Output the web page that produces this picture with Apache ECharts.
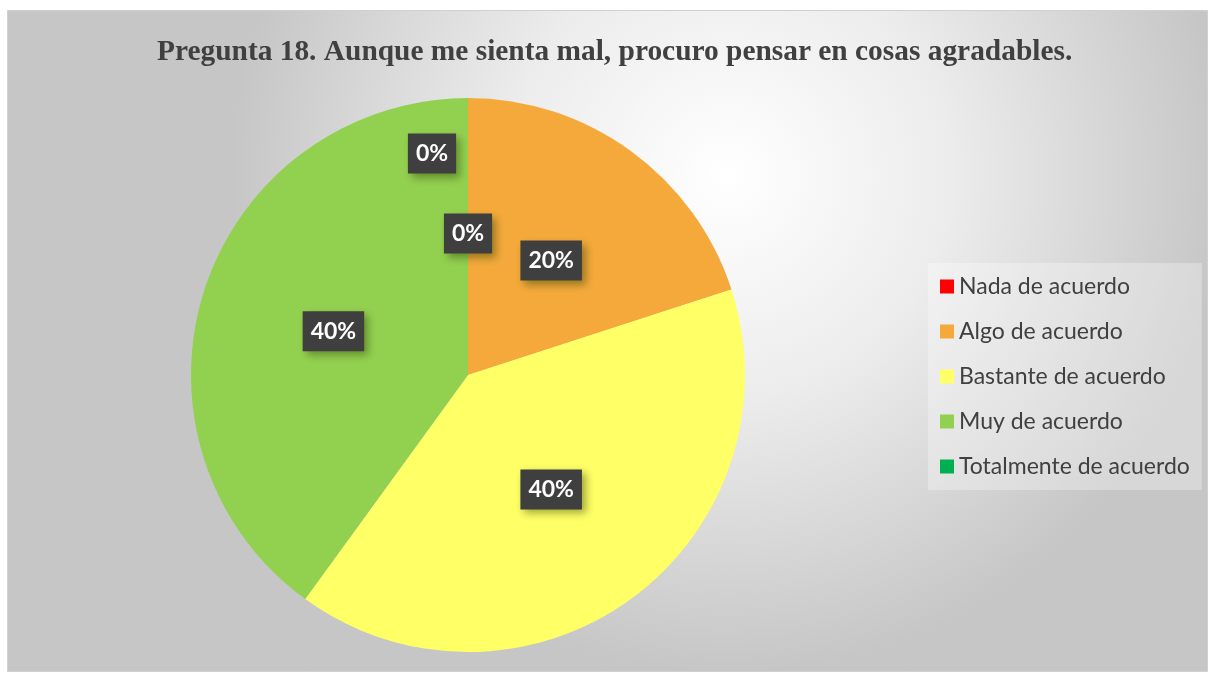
<!DOCTYPE html>
<html>
<head>
<meta charset="utf-8">
<script src="https://cdn.jsdelivr.net/npm/echarts@6/dist/echarts.min.js"></script>
<style>
  html, body { margin: 0; padding: 0; background: #fff; }
  #main { width: 1210px; height: 675px; }
</style>
</head>
<body>
<div id="main"></div>
<script>
// datos de la pregunta 18
const categorias = ['Nada de acuerdo', 'Algo de acuerdo', 'Bastante de acuerdo', 'Muy de acuerdo', 'Totalmente de acuerdo'];
const porcentajes = [0, 20, 40, 40, 0];
const colores = ['#FF0000', '#F5A93B', '#FFFF66', '#92D050', '#00B050'];

const chart = echarts.init(document.getElementById('main'));

const option = {
    backgroundColor: '#ffffff',
    animation: false,
    graphic: [
        {
            type: 'rect',
            z: -10,
            shape: {x: 7.5, y: 10.5, width: 1200, height: 661},
            style: {
                fill: {
                    type: 'radial', x: 0.6, y: 0.25, r: 0.75,
                    colorStops: [
                        {offset: 0, color: '#ffffff'},
                        {offset: 0.45, color: '#ececec'},
                        {offset: 1, color: '#c6c6c6'}
                    ]
                },
                stroke: '#d0d0d0',
                lineWidth: 1
            }
        }
    ],
    title: {
        text: 'Pregunta 18. Aunque me sienta mal, procuro pensar en cosas agradables.',
        left: 152,
        top: 33,
        textStyle: {
            fontFamily: '"Liberation Serif", "DejaVu Serif", serif',
            fontWeight: 'bold',
            fontSize: 29.4,
            color: '#404040'
        }
    },
    legend: {
        orient: 'vertical',
        left: 928,
        top: 263,
        padding: [12, 12, 12, 12],
        backgroundColor: 'rgba(255,255,255,0.3)',
        icon: 'rect',
        itemWidth: 14,
        itemHeight: 14,
        itemGap: 22,
        data: categorias,
        textStyle: {
            fontFamily: 'Lato, "Open Sans", sans-serif',
            fontSize: 23,
            color: '#404040'
        }
    },
    series: [
        {
            type: 'pie',
            center: [468, 375],
            radius: 277,
            startAngle: 90,
            clockwise: true,
            avoidLabelOverlap: false,
            minShowLabelAngle: 0,
            label: {
                show: true,
                position: 'inside',
                formatter: '{c}%',
                fontFamily: 'Lato, "Open Sans", sans-serif',
                fontWeight: 'bold',
                fontSize: 23,
                color: '#ffffff',
                backgroundColor: '#3f3f3f',
                padding: [9, 8, 8, 8],
                shadowColor: 'rgba(40,60,0,0.45)',
                shadowBlur: 8,
                shadowOffsetX: 4,
                shadowOffsetY: 4
            },
            labelLine: {show: false},
            // Excel desplazó la etiqueta del último 0%
            labelLayout: function (params) {
                if (params.dataIndex === 4) {
                    return {dx: -36, dy: -80};
                }
                return {};
            },
            emphasis: {disabled: true},
            data: categorias.map((c, i) => ({
                name: c,
                value: porcentajes[i],
                itemStyle: {color: colores[i]}
            }))
        }
    ]
};

chart.setOption(option);
</script>
</body>
</html>
